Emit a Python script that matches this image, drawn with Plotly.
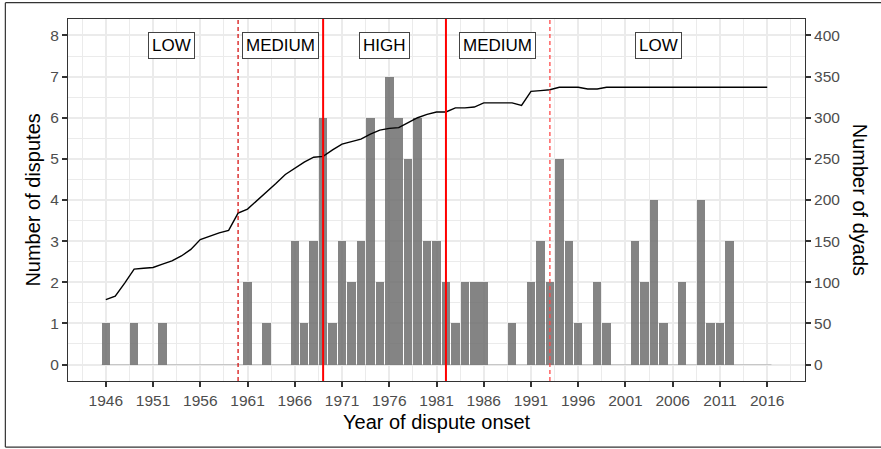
import plotly.graph_objects as go

years = list(range(1946, 2017))
disputes = [1, 0, 0, 1, 0, 0, 1, 0, 0, 0, 0, 0, 0, 0, 0, 2, 0, 1, 0, 0,
            3, 1, 3, 6, 1, 3, 2, 3, 6, 2, 7, 6, 5, 6, 3, 3, 2, 1, 2, 2,
            2, 0, 0, 1, 0, 2, 3, 2, 5, 3, 1, 0, 2, 1, 0, 0, 3, 2, 4, 1,
            0, 2, 0, 4, 1, 1, 3, 0, 0, 0, 0]
dyads = [79, 83, 99, 116, 117, 118, 122, 126, 132, 140, 152, 156, 160, 163, 184, 189,
         199, 209, 220, 231, 239, 246, 252, 253, 261, 268, 271, 274, 280, 285, 287, 288,
         294, 300, 304, 307, 307, 312, 312, 313, 318, 318, 318, 318, 315, 332, 333, 334,
         337, 337, 337, 335, 335, 337, 337, 337, 337, 337, 337, 337, 337, 337, 337, 337,
         337, 337, 337, 337, 337, 337, 337]
tick_years = list(range(1946, 2017, 5))
left_ticks = list(range(0, 9))
right_ticks = list(range(0, 401, 50))

period_labels = ["LOW", "MEDIUM", "HIGH", "MEDIUM", "LOW"]
period_label_x = [1953, 1964.5, 1975.5, 1987.5, 2004.5]
period_label_y = 7.75
dashed_breaks = [1960, 1993]
solid_breaks = [1969, 1982]

FONT = "Liberation Sans, Arial, sans-serif"
bar_width = 0.9

fig = go.Figure()
fig.add_trace(go.Scatter(
    x=[years[0] - bar_width / 2, years[-1] + bar_width / 2], y=[0, 0],
    mode="lines", line=dict(color="rgba(130,130,130,0.35)", width=1),
    hoverinfo="skip", showlegend=False))
fig.add_trace(go.Bar(
    x=years, y=disputes, width=bar_width,
    marker=dict(color="rgba(110,110,110,0.85)", line=dict(width=0)),
    showlegend=False))
fig.add_trace(go.Scatter(
    x=years, y=dyads, yaxis="y2", mode="lines",
    line=dict(color="black", width=1.4), showlegend=False))

shapes = []
shapes.append(dict(type="line", xref="x", yref="paper", x0=dashed_breaks[0], x1=dashed_breaks[0],
                   y0=0, y1=1, line=dict(color="#d40000", width=1.2, dash="4px,3px"), layer="above"))
shapes.append(dict(type="line", xref="x", yref="paper", x0=dashed_breaks[1], x1=dashed_breaks[1],
                   y0=0, y1=1, line=dict(color="rgba(255,70,70,0.8)", width=1.6, dash="4px,3px"),
                   layer="above"))
for xb in solid_breaks:
    shapes.append(dict(type="line", xref="x", yref="paper", x0=xb, x1=xb, y0=0, y1=1,
                       line=dict(color="#ff0000", width=2), layer="above"))
# outer border of the figure (left, top, bottom edges)
border = dict(color="#333333", width=1.2)
shapes.append(dict(type="line", xref="paper", yref="paper", x0=-0.085, x1=-0.085,
                   y0=-0.1826, y1=1.045, line=border))
shapes.append(dict(type="line", xref="paper", yref="paper", x0=-0.085, x1=1.12,
                   y0=1.045, y1=1.045, line=border))
shapes.append(dict(type="line", xref="paper", yref="paper", x0=-0.085, x1=1.12,
                   y0=-0.1826, y1=-0.1826, line=border))

annotations = []
for lab, lx in zip(period_labels, period_label_x):
    annotations.append(dict(x=lx, y=period_label_y, xref="x", yref="y", text=lab,
                            showarrow=False, font=dict(family=FONT, size=17, color="black"),
                            bgcolor="white", bordercolor="#444444", borderwidth=1, borderpad=3))
annotations.append(dict(x=-0.048, y=0.5, xref="paper", yref="paper", text="Number of disputes",
                        textangle=-90, showarrow=False, xanchor="center", yanchor="middle",
                        font=dict(family=FONT, size=20, color="black")))
annotations.append(dict(x=1.075, y=0.5, xref="paper", yref="paper", text="Number of dyads",
                        textangle=90, showarrow=False, xanchor="center", yanchor="middle",
                        font=dict(family=FONT, size=20, color="black")))
annotations.append(dict(x=0.5, y=-0.112, xref="paper", yref="paper", text="Year of dispute onset",
                        showarrow=False, xanchor="center", yanchor="middle",
                        font=dict(family=FONT, size=20, color="black")))

grid_major = "#ebebeb"
fig.update_layout(
    width=881, height=449,
    margin=dict(l=68, r=76, t=19, b=68),
    paper_bgcolor="white", plot_bgcolor="white",
    bargap=0, showlegend=False,
    font=dict(family=FONT),
    xaxis=dict(range=[1942, 2020], tickvals=tick_years, ticktext=[str(t) for t in tick_years],
               showgrid=True, gridcolor=grid_major, gridwidth=1.5,
               minor=dict(dtick=2.5, tick0=1946, showgrid=True, gridcolor=grid_major, gridwidth=0.9),
               ticks="outside", ticklen=5, tickwidth=1.6, tickcolor="#333333",
               tickfont=dict(family=FONT, size=15.5, color="#4d4d4d"),
               showline=True, mirror=True, linecolor="#333333", linewidth=1.3, zeroline=False),
    yaxis=dict(range=[-0.4, 8.4], tickvals=left_ticks,
               showgrid=True, gridcolor=grid_major, gridwidth=1.5,
               minor=dict(dtick=0.5, tick0=0, showgrid=True, gridcolor=grid_major, gridwidth=0.9),
               ticks="outside", ticklen=5, tickwidth=1.6, tickcolor="#333333",
               tickfont=dict(family=FONT, size=15.5, color="#4d4d4d"),
               showline=True, mirror=True, linecolor="#333333", linewidth=1.3, zeroline=False),
    yaxis2=dict(range=[-20, 420], tickvals=right_ticks, overlaying="y", side="right",
                showgrid=False, zeroline=False,
                ticks="outside", ticklen=5, tickwidth=1.6, tickcolor="#333333",
                tickfont=dict(family=FONT, size=15.5, color="#4d4d4d")),
    shapes=shapes, annotations=annotations,
)

fig.write_html("out.html", config={"displayModeBar": False},
               post_script="document.body.style.margin='0';document.body.style.overflow='hidden';")
